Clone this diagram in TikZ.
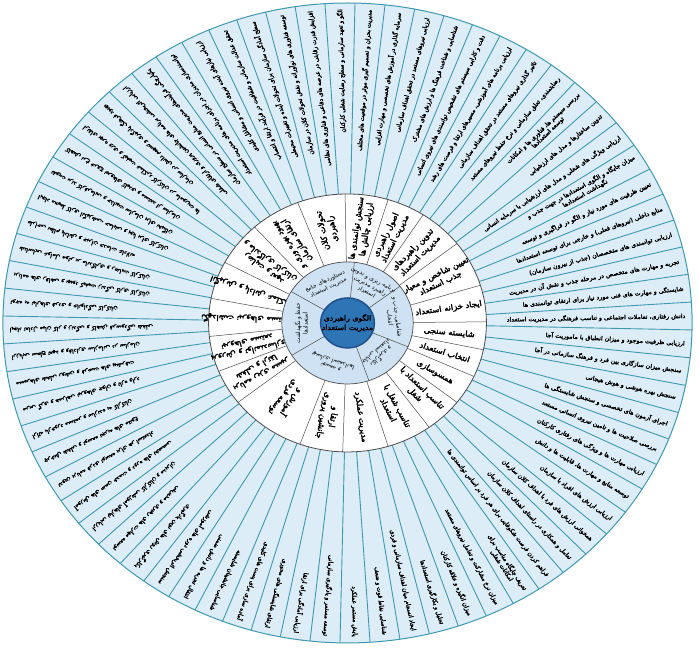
\documentclass[tikz,border=0pt]{standalone}
\usepackage{fontspec}
\newfontfamily\fafont[Script=Arabic]{DejaVu Sans}
\newfontfamily\fabfont[Script=Arabic,FakeBold=3]{DejaVu Sans}
\TeXXeTstate=1
\newcommand{\fa}[1]{\beginR #1\endR}

\definecolor{kulso}{RGB}{221,237,247}
\definecolor{sugar}{RGB}{62,152,176}
\definecolor{belso}{RGB}{206,226,243}
\definecolor{mag}{RGB}{46,117,182}
\definecolor{magkeret}{RGB}{31,80,140}
\definecolor{hatar}{RGB}{75,75,75}

% Külső gyűrű felirata: sorszám, szöveg
\newcommand{\kulsofel}[2]{%
    \pgfmathsetmacro\szog{5*#1+1.25}%
    \node[kulsofelirat, rotate=\szog, anchor=east] (k#1) at (\szog:314) {#2};%
}
% Fehér gyűrű felirata: név, kezdő szög, végszög, szöveg
\newcommand{\gyurufel}[4]{%
    \pgfmathsetmacro\szog{(#2+#3)/2}%
    \node[gyurufelirat, rotate=\szog] (#1) at (\szog:95) {#4};%
}
% Belső kék gyűrű felirata: név, kezdő szög, végszög, szöveg
\newcommand{\szektorfel}[4]{%
    \pgfmathsetmacro\szog{(#2+#3)/2}%
    \node[szektorfelirat, rotate=\szog-90] (#1) at (\szog:43) {#4};%
}

\begin{document}
\begin{tikzpicture}[
    x=1pt, y=1pt, xscale=1.077,
    % Stílus a külső gyűrű szövegeihez
    kulsofelirat/.style={font=\fontsize{5.8}{6.2}\selectfont\fabfont, inner sep=0pt, align=center, transform shape},
    % Stílus a fehér gyűrű szövegeihez
    gyurufelirat/.style={font=\fontsize{7.8}{9.4}\selectfont\fabfont, inner sep=0pt, align=center, transform shape},
    % Stílus a belső kék gyűrű szövegeihez
    szektorfelirat/.style={font=\fontsize{5.6}{7}\selectfont\fafont, inner sep=0pt, align=center, transform shape},
    kozepfelirat/.style={font=\fontsize{7.2}{9.4}\selectfont\fabfont, inner sep=0pt, align=center, transform shape}
]

    % Keret a kép arányaihoz
    \useasboundingbox (-322.7,-325) rectangle (326.4,323);

    % Külső gyűrű, sugarakkal
    \fill[kulso] (0,0) circle (320);
    \foreach \sorsz in {0,...,71}
        \draw[sugar, line width=0.9] ({5*\sorsz+3.75}:129) -- ({5*\sorsz+3.75}:320);
    \draw[sugar, line width=1] (0,0) circle (320);

    % Külső gyűrű feliratai
    \kulsofel{0}{\fa{دانش رفتاری، تعاملات اجتماعی و تناسب فرهنگی در مدیریت استعداد}}
    \kulsofel{1}{\fa{شایستگی و مهارت های فنی مورد نیاز برای ارتقای توانمندی ها}}
    \kulsofel{2}{\fa{تجربه و مهارت های متخصص در مرحله جذب و نقش آن در مدیریت}}
    \kulsofel{3}{\fa{ارزیابی توانمندی های متخصصان (جذب از بیرون سازمان)}}
    \kulsofel{4}{\fa{منابع داخلی (نیروهای فعلی) و خارجی برای توسعه استعدادها}}
    \kulsofel{5}{\fa{تعیین ظرفیت های مورد نیاز و الگو در فراگیری و توسعه}}
    \kulsofel{6}{\fa{میزان جایگاه و الگوی استعدادها در جهت جذب و}\\\fa{نگهداشت استعدادها}}
    \kulsofel{7}{\fa{ارزیابی ویژگی های شغلی و مدل های ارزشیابی با سرمایه انسانی}}
    \kulsofel{8}{\fa{تدوین ساختارها و مدل های ارزشیابی}}
    \kulsofel{9}{\fa{بررسی سیستم ها، فناوری ها و امکانات}\\\fa{توسعه استعدادها}}
    \kulsofel{10}{\fa{رضایتمندی، تعلق سازمانی و نرخ حفظ نیروهای مستعد}}
    \kulsofel{11}{\fa{تاثیر گذاری نیروهای مستعد در تحقق اهداف سازمانی}}
    \kulsofel{12}{\fa{ارزیابی برنامه های آموزشی، مسیرهای ارتقا و فرصت های رشد}}
    \kulsofel{13}{\fa{دقت و کارایی سیستم های تشخیص توانمندی های نیروی انسانی}}
    \kulsofel{14}{\fa{شناسایی و شناخت فرهنگ ها و ارزش های مشترک}}
    \kulsofel{15}{\fa{ارزیابی نیروهای مستعد در تحقق اهداف سازمانی}}
    \kulsofel{16}{\fa{سرمایه گذاری در آموزش های تخصصی و مهارت افزایی}}
    \kulsofel{17}{\fa{مدیریت بحران و تصمیم گیری موثر در موقعیت های مختلف}}
    \kulsofel{18}{\fa{الگو و تعهد سازمانی و سطح رضایت شغلی کارکنان}}
    \kulsofel{19}{\fa{افزایش قدرت رقابتی در عرصه های دفاعی و فناوری های نظامی}}
    \kulsofel{20}{\fa{توسعه فناوری های نوآورانه و نقش تحولات کلان در سازمان}}
    \kulsofel{21}{\fa{سطح آمادگی سازمان برای تحولات آینده و تغییرات محیطی}}
    \kulsofel{22}{\fa{تحقق عدالت سازمانی و شفافیت در فرآیند ارتقا و انتصاب}}
    \kulsofel{23}{\fa{ارزیابی نیازهای آینده نیروی انسانی و مشاغل کلیدی}}
    \kulsofel{24}{\fa{توانمندسازی مدیران در اجرای برنامه های مدیریت استعداد}}
    \kulsofel{25}{\fa{یکپارچگی فرآیندهای مدیریت منابع انسانی در سطح سازمان}}
    \kulsofel{26}{\fa{ارزیابی اثربخشی برنامه های جانشین پروری و ارتقای شغلی}}
    \kulsofel{27}{\fa{بهبود فرهنگ یادگیری و تسهیم دانش در سازمان}}
    \kulsofel{28}{\fa{ارتقای بهره وری و کیفیت عملکرد کارکنان در ماموریت ها}}
    \kulsofel{29}{\fa{کاهش نرخ خروج نیروهای کلیدی و مستعد از سازمان}}
    \kulsofel{30}{\fa{تقویت برند کارفرمایی و جذابیت سازمان برای نخبگان}}
    \kulsofel{31}{\fa{ایجاد محیط کاری انگیزشی، حمایتی و پویا برای کارکنان}}
    \kulsofel{32}{\fa{طراحی نظام پاداش و جبران خدمات عادلانه}}
    \kulsofel{33}{\fa{شناسایی عوامل موثر بر ماندگاری و رضایت کارکنان}}
    \kulsofel{34}{\fa{برنامه های رفاهی و بهبود کیفیت زندگی کاری کارکنان}}
    \kulsofel{35}{\fa{توجه به نیازهای فردی و خانوادگی کارکنان}}
    \kulsofel{36}{\fa{ایجاد تعادل میان کار و زندگی و کاهش فرسودگی شغلی}}
    \kulsofel{37}{\fa{ارزیابی سطح تعهد و وفاداری سازمانی در سازمان}}
    \kulsofel{38}{\fa{مسیرهای شغلی روشن و فرصت های پیشرفت}}
    \kulsofel{39}{\fa{مربی گری و همراهی نیروهای جوان و تازه وارد}}
    \kulsofel{40}{\fa{ارائه بازخورد مستمر و سازنده به کارکنان}}
    \kulsofel{41}{\fa{چرخش شغلی و توسعه تجربه های متنوع}}
    \kulsofel{42}{\fa{تدوین برنامه فردی توسعه برای هر استعداد}}
    \kulsofel{43}{\fa{آموزش های ضمن خدمت و دوره های تخصصی}}
    \kulsofel{44}{\fa{ارزیابی نیازهای آموزشی کارکنان و مدیران}}
    \kulsofel{45}{\fa{توسعه مهارت های رهبری و مدیریتی}}
    \kulsofel{46}{\fa{بکارگیری روش های نوین یادگیری}}
    \kulsofel{47}{\fa{سنجش اثربخشی دوره های آموزشی}}
    \kulsofel{48}{\fa{انتقال تجربه ها و دانش ضمنی}}
    \kulsofel{49}{\fa{شناسایی جانشینان شایسته}}
    \kulsofel{50}{\fa{آماده سازی برای پست های کلیدی}}
    \kulsofel{51}{\fa{ارتقای شایستگی های محوری}}
    \kulsofel{52}{\fa{ارزیابی آمادگی برای ارتقا}}
    \kulsofel{53}{\fa{توسعه مستمر و یادگیری سازمانی}}
    \kulsofel{54}{\fa{پایش مستمر عملکرد}}
    \kulsofel{55}{\fa{شناسایی نقاط قوت و ضعف}}
    \kulsofel{56}{\fa{ایجاد انسجام میان اهداف سازمانی و فردی}}
    \kulsofel{57}{\fa{تحلیل و بکارگیری استعدادها}}
    \kulsofel{58}{\fa{میزان انگیزه و علاقه کارکنان}}
    \kulsofel{59}{\fa{میزان نرخ مشارکت و تعامل نیروهای مستعد}}
    \kulsofel{60}{\fa{تعریف جایگاه مناسب برای}\\\fa{امکانات شغلی}}
    \kulsofel{61}{\fa{فراهم کردن فرصت شکوفایی برای هر فرد بر اساس توانمندی ها}}
    \kulsofel{62}{\fa{تعامل و همکاری در راستای اهداف کلان سازمان}}
    \kulsofel{63}{\fa{همخوانی ارزش های فرد با اهداف کلان سازمان}}
    \kulsofel{64}{\fa{ارزیابی ارزش های افراد با سازمان}}
    \kulsofel{65}{\fa{توسعه منابع و مهارت ها، قابلیت ها و دانش}}
    \kulsofel{66}{\fa{ارزیابی مهارت ها و ویژگی های رفتاری کارکنان}}
    \kulsofel{67}{\fa{بررسی صلاحیت ها و تامین نیروی انسانی مستعد}}
    \kulsofel{68}{\fa{اجرای آزمون های تخصصی و سنجش شایستگی ها}}
    \kulsofel{69}{\fa{سنجش بهره هوشی و هوش هیجانی}}
    \kulsofel{70}{\fa{سنجش میزان سازگاری بین فرد و فرهنگ سازمانی در آجا}}
    \kulsofel{71}{\fa{ارزیابی ظرفیت موجود و میزان انطباق با ماموریت آجا}}

    % Fehér gyűrű és elválasztói
    \filldraw[fill=white, draw=hatar, line width=0.8] (0,0) circle (129);
    \foreach \hat in {111,91,73,57,38,17,0.5,-12,-24.5,-38,-54,-73,-92,-110,-142,-158,-174,169,152,132}
        \draw[hatar, line width=0.5] (\hat:61) -- (\hat:129);

    % Fehér gyűrű feliratai
    \gyurufel{g1}{91}{111}{\fa{تحولات کلان}\\\fa{راهبردی}}
    \gyurufel{g2}{73}{91}{\fa{سنجش توانمندی ها}\\\fa{ارزیابی چالش ها}}
    \gyurufel{g3}{57}{73}{\fa{اصول راهبردی}\\\fa{مدیریت استعداد}}
    \gyurufel{g4}{38}{57}{\fa{تدوین راهبردهای}\\\fa{مدیریت استعداد}}
    \gyurufel{g5}{17}{38}{\fa{تعیین شاخص و معیار}\\\fa{جذب استعداد}}
    \gyurufel{g6}{0.5}{17}{\fa{ایجاد خزانه استعداد}}
    \gyurufel{g7}{-12}{0.5}{\fa{شایسته سنجی}}
    \gyurufel{g8}{-24.5}{-12}{\fa{انتخاب استعداد}}
    \gyurufel{g9}{-38}{-24.5}{\fa{همسوسازی}}
    \gyurufel{g10}{-54}{-38}{\fa{تناسب استعداد با}\\\fa{شغل}}
    \gyurufel{g11}{-73}{-54}{\fa{تناسب شغل با}\\\fa{استعداد}}
    \gyurufel{g12}{-92}{-73}{\fa{مدیریت عملکرد}}
    \gyurufel{g13}{-110}{-92}{\fa{ارتقا و}\\\fa{جانشین پروری}}
    \gyurufel{g14}{-142}{-110}{\fa{آموزش و}\\\fa{توسعه فردی}}
    \gyurufel{g15}{-158}{-142}{\fa{برنامه ریزی مسیر}\\\fa{شغلی و ارتقا}}
    \gyurufel{g16}{-174}{-158}{\fa{پرورش و توانمندسازی}\\\fa{نیروهای مستعد}}
    \gyurufel{g17}{169}{186}{\fa{نگهداشت نیروهای مستعد}}
    \gyurufel{g18}{152}{169}{\fa{انگیزش و پاداش عملکرد}}
    \gyurufel{g19}{132}{152}{\fa{رضایت و تعهد}\\\fa{و ماندگاری کارکنان}}
    \gyurufel{g20}{111}{132}{\fa{بهبود بهره وری و}\\\fa{ارتقای سازمان}}

    % Belső kék gyűrű és elválasztói
    \filldraw[fill=belso, draw=hatar, line width=0.7] (0,0) circle (61);
    \foreach \hat in {84,37,-23,-71,-148,149}
        \draw[hatar, line width=0.5] (\hat:25) -- (\hat:61);

    % Belső kék gyűrű feliratai
    \szektorfel{s1}{84}{149}{\fa{دستاوردهای جامع}\\\fa{مدیریت استعداد}}
    \szektorfel{s2}{37}{84}{\fa{برنامه ریزی و تدوین}\\\fa{راهبرد مدیریت}\\\fa{استعداد}}
    \szektorfel{s3}{-23}{37}{\fa{شناسایی، جذب و}\\\fa{انتخاب}}
    \szektorfel{s4}{-71}{-23}{\fa{بکارگیری و}\\\fa{جایابی استعداد}}
    \szektorfel{s5}{-148}{-71}{\fa{توسعه و}\\\fa{بهسازی استعدادها}}
    \szektorfel{s6}{149}{212}{\fa{حفظ و نگهداشت}\\\fa{استعدادها}}

    % Középső kör a címmel
    \filldraw[fill=mag, draw=magkeret, line width=1.5] (0,0) circle (25);
    \node[kozepfelirat] (kozep) at (0,0) {\fa{الگوی راهبردی}\\\fa{مدیریت استعداد}};
\end{tikzpicture}
\end{document}
